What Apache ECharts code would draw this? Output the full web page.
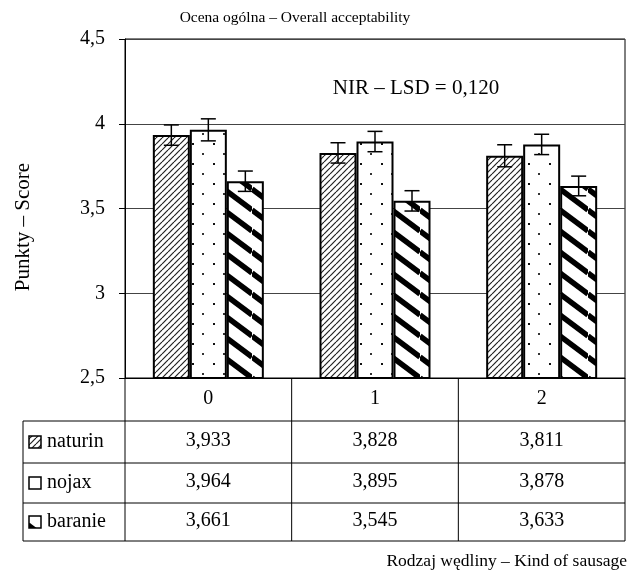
<!DOCTYPE html>
<html>
<head>
<meta charset="utf-8">
<script src="https://cdn.jsdelivr.net/npm/echarts@6/dist/echarts.min.js"></script>
<style>
html,body{margin:0;padding:0;background:#fff;}
#chart{width:632px;height:575px;}
</style>
</head>
<body>
<div id="chart"></div>
<script>
// ---- data ----
const categories = ['0', '1', '2'];
const seriesNames = ['naturin', 'nojax', 'baranie'];
const naturin = [3.933, 3.828, 3.811];
const nojax = [3.964, 3.895, 3.878];
const baranie = [3.661, 3.545, 3.633];
const errNaturin = [0.06, 0.06, 0.065];
const errNojax = [0.065, 0.06, 0.06];
const errBaranie = [0.06, 0.06, 0.058];
const yMin = 2.5, yMax = 4.5, yInterval = 0.5;
const titleText = 'Ocena ogólna – Overall acceptability';
const yName = 'Punkty – Score';
const xName = 'Rodzaj wędliny – Kind of sausage';
const lsdText = 'NIR – LSD = 0,120';

const FONT = '"Liberation Serif", "Times New Roman", serif';
const fmt = v => v.toFixed(3).replace('.', ',');

// ---- patterns ----
function patNaturin() {
  const c = document.createElement('canvas'); c.width = 6; c.height = 6;
  const g = c.getContext('2d');
  g.fillStyle = '#fff'; g.fillRect(0, 0, 6, 6);
  g.strokeStyle = '#222'; g.lineWidth = 1.2;
  for (let k = -1; k <= 1; k++) {
    g.beginPath(); g.moveTo(k * 6, 6); g.lineTo(k * 6 + 6, 0); g.stroke();
  }
  return c;
}
function patNojax() {
  const c = document.createElement('canvas'); c.width = 21; c.height = 20;
  const g = c.getContext('2d');
  g.fillStyle = '#fff'; g.fillRect(0, 0, 21, 20);
  g.fillStyle = '#111'; g.fillRect(3, 3, 2, 2);
  g.fillStyle = '#333'; g.fillRect(13, 13, 2, 2);
  return c;
}
function patBaranie() {
  const c = document.createElement('canvas'); c.width = 28; c.height = 21;
  const g = c.getContext('2d');
  g.fillStyle = '#fff'; g.fillRect(0, 0, 28, 21);
  g.strokeStyle = '#000'; g.lineWidth = 5.5;
  for (let k = -2; k <= 2; k++) {
    g.beginPath(); g.moveTo(0, 21 * k); g.lineTo(28, 21 * k + 21); g.stroke();
  }
  return c;
}
const patterns = [patNaturin(), patNojax(), patBaranie()];
const values = [naturin, nojax, baranie];
const errs = [errNaturin, errNojax, errBaranie];
const CAT_GAP = 0.334;

const chart = echarts.init(document.getElementById('chart'), null, {renderer: 'canvas'});

const barSeries = values.map((arr, i) => ({
  name: seriesNames[i],
  type: 'bar',
  data: arr,
  barGap: '0%',
  barCategoryGap: (CAT_GAP * 100) + '%',
  itemStyle: {
    color: {image: patterns[i], repeat: 'repeat'},
    borderColor: '#000',
    borderWidth: 2
  },
  silent: true,
  z: 2
}));

const errSeries = values.map((arr, i) => ({
  type: 'custom',
  data: arr.map((v, j) => [j, v - errs[i][j], v + errs[i][j]]),
  z: 5,
  silent: true,
  renderItem: function (params, api) {
    const cat = api.value(0);
    const lo = api.coord([cat, api.value(1)]);
    const hi = api.coord([cat, api.value(2)]);
    const band = api.size([1, 0])[0];
    const bw = band * (1 - CAT_GAP) / 3;
    const x = lo[0] + (i - 1) * bw;
    const cw = 7.5;
    const st = {stroke: '#000', lineWidth: 1.5};
    return {
      type: 'group',
      children: [
        {type: 'line', shape: {x1: x, y1: lo[1], x2: x, y2: hi[1]}, style: st},
        {type: 'line', shape: {x1: x - cw, y1: lo[1], x2: x + cw, y2: lo[1]}, style: st},
        {type: 'line', shape: {x1: x - cw, y1: hi[1], x2: x + cw, y2: hi[1]}, style: st}
      ]
    };
  }
}));

chart.setOption({
  backgroundColor: '#fff',
  animation: false,
  title: {
    text: titleText,
    left: 290, top: 5, textAlign: 'center',
    textStyle: {fontFamily: FONT, fontSize: 15.5, fontWeight: 'normal', color: '#000'}
  },
  grid: {left: 125, right: 7, top: 39, bottom: 197, show: true, borderColor: '#000', borderWidth: 1},
  xAxis: {
    type: 'category',
    data: categories,
    axisLine: {lineStyle: {color: '#000', width: 1}},
    axisTick: {show: false},
    axisLabel: {
      margin: 0,
      interval: 0,
      formatter: function (v, idx) {
        return '{h|' + v + '}\n{a|' + fmt(naturin[idx]) + '}\n{b|' + fmt(nojax[idx]) + '}\n{c|' + fmt(baranie[idx]) + '}';
      },
      rich: {
        h: {fontFamily: FONT, fontSize: 20, color: '#000', lineHeight: 42},
        a: {fontFamily: FONT, fontSize: 20, color: '#000', lineHeight: 42},
        b: {fontFamily: FONT, fontSize: 20, color: '#000', lineHeight: 40},
        c: {fontFamily: FONT, fontSize: 20, color: '#000', lineHeight: 38}
      }
    }
  },
  yAxis: {
    type: 'value',
    min: yMin, max: yMax, interval: yInterval,
    axisLine: {show: true, lineStyle: {color: '#000', width: 1}},
    axisTick: {show: true, length: 6, lineStyle: {color: '#000'}},
    axisLabel: {
      margin: 20,
      fontFamily: FONT, fontSize: 20, color: '#000',
      formatter: v => String(v).replace('.', ',')
    },
    splitLine: {lineStyle: {color: '#444', width: 1}}
  },
  series: barSeries.concat(errSeries)
});

// ---- table lines, legend keys, and extra texts ----
const px = categories.map((c, i) => chart.convertToPixel({xAxisIndex: 0}, i));
const half = (px[1] - px[0]) / 2;
const xEdges = [px[0] - half].concat(px.map(p => p + half));
const yAxisBottom = chart.convertToPixel({yAxisIndex: 0}, yMin);
const rowLines = [421, 463, 503, 541];
const tableLeft = 23;
const L = {stroke: '#000', lineWidth: 1};
const graphic = [];
xEdges.forEach(x => {
  graphic.push({type: 'line', shape: {x1: x, y1: yAxisBottom, x2: x, y2: rowLines[3]}, style: L, silent: true});
});
graphic.push({type: 'line', shape: {x1: tableLeft, y1: rowLines[0], x2: tableLeft, y2: rowLines[3]}, style: L, silent: true});
rowLines.forEach(y => {
  graphic.push({type: 'line', shape: {x1: tableLeft, y1: y, x2: xEdges[3], y2: y}, style: L, silent: true});
});
seriesNames.forEach((n, i) => {
  const cy = (rowLines[i] + rowLines[i + 1]) / 2;
  graphic.push({type: 'rect', shape: {x: 29, y: cy - 6, width: 12, height: 12},
    style: {fill: {image: patterns[i], repeat: 'repeat'}, stroke: '#000', lineWidth: 1.5}, silent: true});
  graphic.push({type: 'text', x: 47, y: cy, style: {text: n, font: '20px ' + FONT, fill: '#000', verticalAlign: 'middle'}, silent: true});
});
graphic.push({type: 'text', x: 416, y: 88, style: {text: lsdText, font: '21px ' + FONT, fill: '#000', align: 'center', verticalAlign: 'middle'}, silent: true});
graphic.push({type: 'text', x: 627, y: 561, style: {text: xName, font: '17.5px ' + FONT, fill: '#000', align: 'right', verticalAlign: 'middle'}, silent: true});
graphic.push({type: 'text', x: 23, y: 227, rotation: Math.PI / 2, style: {text: yName, font: '21px ' + FONT, fill: '#000', align: 'center', verticalAlign: 'middle'}, silent: true});
chart.setOption({graphic: graphic});
</script>
</body>
</html>
